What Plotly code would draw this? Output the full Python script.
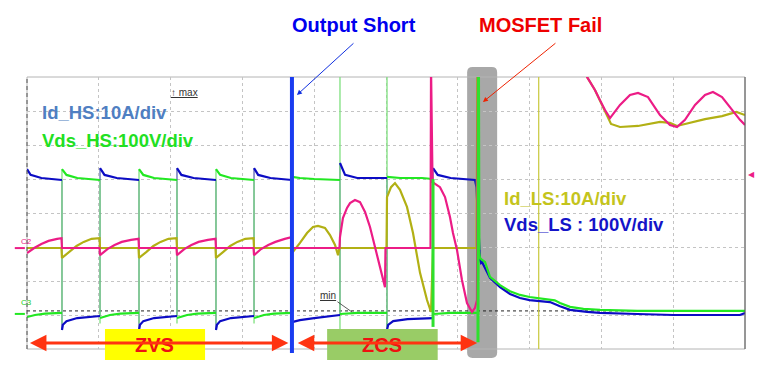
import plotly.graph_objects as go

# Screen units: time in horizontal divisions (10), amplitude in vertical divisions (8)
X_RANGE = [0, 10]
Y_RANGE = [0, 8]

# event times (div)
short_t = 3.69
fail_t = 6.28
ref_level = 1.12   # dashed ground/min reference

# Vds_HS (green) - settled segments, None separates switching edges
vds_hs_t = [0.000, 0.111, 0.251, 0.487, None,
            0.487, 0.550, 0.700, 1.017, None,
            1.017, 1.156, 1.300, 1.560, None,
            1.560, 1.620, 1.770, 2.089, None,
            2.089, 2.230, 2.370, 2.632, None,
            2.632, 2.690, 2.840, 3.162, None,
            3.162, 3.300, 3.440, 3.691, None,
            3.691, 3.800, 4.000, 4.359, None,
            4.359, 4.600, 5.014, None,
            5.014, 5.200, 5.500, 5.655, None,
            5.655, 5.900, 6.281, None,
            6.295, 6.309, 6.337, 6.379, 6.448, 6.588, 6.727, 6.866,
            7.000, 7.284, 7.350, 7.423, 7.563, 7.750, 7.981, 8.500, 10.000]
vds_hs_v = [0.94, 1.00, 1.04, 1.06, None,
            5.29, 5.12, 5.03, 4.97, None,
            0.91, 1.00, 1.04, 1.06, None,
            5.29, 5.12, 5.03, 4.97, None,
            0.91, 1.00, 1.04, 1.06, None,
            5.29, 5.12, 5.03, 4.97, None,
            0.91, 1.00, 1.04, 1.06, None,
            5.06, 5.03, 5.00, 4.97, None,
            1.03, 1.06, 1.06, None,
            5.06, 5.03, 5.03, 5.00, None,
            1.03, 1.06, 1.06, None,
            2.91, 2.68, 2.62, 2.56, 2.12, 1.88, 1.70, 1.59,
            1.53, 1.44, 1.43, 1.35, 1.24, 1.18, 1.15, 1.12, 1.12]

# Vds_HS switching edges (thin, fast transitions)
hs_edge_t = [0.487, 0.487, None, 1.017, 1.017, None, 1.560, 1.560, None,
             2.089, 2.089, None, 2.632, 2.632, None, 3.162, 3.162, None,
             4.359, 4.359, None, 5.014, 5.014]
hs_edge_v = [0.75, 5.29, None, 4.97, 0.75, None, 0.75, 5.29, None,
             4.97, 0.75, None, 0.75, 5.29, None, 4.97, 0.75, None,
             -0.30, 8.30, None, -0.30, 8.30]
# Vds_HS heavy edges (last turn-off and failure)
hs_fail_t = [5.655, 5.655, None, 6.281, 6.281, 6.288, 6.295]
hs_fail_v = [5.00, 0.65, None, 1.06, 0.20, 8.30, 2.91]

# Vds_LS (blue)
vds_ls_t = [0.000, 0.050, 0.200, 0.487, None,
            0.487, 0.500, 0.550, 0.700, 1.017, None,
            1.017, 1.080, 1.250, 1.560, None,
            1.560, 1.574, 1.620, 1.770, 2.089, None,
            2.089, 2.150, 2.320, 2.632, None,
            2.632, 2.646, 2.690, 2.840, 3.162, None,
            3.162, 3.220, 3.390, 3.691, None,
            3.691, 3.800, 4.000, 4.359, None,
            4.359, 4.430, 4.600, 5.014, None,
            5.014, 5.030, 5.100, 5.300, 5.655, None,
            5.655, 5.720, 5.900, 6.240,
            6.260, 6.309, 6.323, 6.337, 6.448, 6.588, 6.727, 6.866, 7.000,
            7.284, 7.423, 7.563, 7.800, 7.981, 8.500, 9.000, 9.930, 10.000]
vds_ls_v = [5.29, 5.12, 5.03, 4.97, None,
            0.56, 0.71, 0.82, 0.91, 0.97, None,
            5.32, 5.12, 5.03, 4.97, None,
            0.56, 0.71, 0.82, 0.91, 0.97, None,
            5.32, 5.12, 5.03, 4.97, None,
            0.56, 0.71, 0.82, 0.91, 0.97, None,
            5.32, 5.12, 5.03, 4.97, None,
            0.79, 0.85, 0.91, 1.00, None,
            5.47, 5.12, 5.03, 5.03, None,
            0.56, 0.71, 0.82, 0.88, 0.91, None,
            5.32, 5.12, 5.03, 4.97,
            4.76, 2.62, 2.53, 2.56, 2.09, 1.82, 1.62, 1.50, 1.44,
            1.38, 1.26, 1.15, 1.09, 1.06, 1.03, 1.00, 1.00, 1.06]

# Vds_LS switching edges
ls_edge_t = [0.487, 0.487, None, 1.017, 1.017, None, 1.560, 1.560, None,
             2.089, 2.089, None, 2.632, 2.632, None, 3.162, 3.162, None,
             4.359, 4.359, None, 5.014, 5.014, None, 5.655, 5.655]
ls_edge_v = [4.97, 0.56, None, 0.97, 5.32, None, 4.97, 0.56, None,
             0.97, 5.32, None, 4.97, 0.56, None, 0.97, 5.32, None,
             1.00, 5.47, None, 5.03, 0.56, None, 0.91, 5.32]

# Id_HS (magenta)
id_hs_t = [0.000, 0.100, 0.200, 0.300, 0.420, 0.480,
           0.487, 1.010,
           1.017, 1.120, 1.220, 1.320, 1.450, 1.553,
           1.560, 2.082,
           2.089, 2.190, 2.290, 2.390, 2.520, 2.625,
           2.632, 3.155,
           3.162, 3.260, 3.360, 3.460, 3.590, 3.684,
           3.691, 4.352,
           4.359, 4.400, 4.457, 4.499, 4.568, 4.638, 4.708, 4.777, 4.847, 4.916, 4.986,
           4.993, 5.620,
           5.627, 5.648, 5.752, 5.822, 5.891, 5.933, 5.989, 6.058, 6.128, 6.198, 6.240, 6.267,
           6.281, 7.700, 7.800, 7.910, 7.980, 8.050, 8.120, 8.259, 8.398, 8.510, 8.649,
           8.816, 8.955, 9.053, 9.164, 9.304, 9.443, 9.554, 9.680, 9.819, 9.930, 10.000]
id_hs_v = [2.82, 2.97, 3.09, 3.18, 3.24, 3.26,
           2.97, 2.97,
           2.76, 2.94, 3.06, 3.15, 3.21, 3.24,
           2.97, 2.97,
           2.76, 2.94, 3.06, 3.15, 3.21, 3.24,
           2.97, 2.97,
           2.76, 2.94, 3.06, 3.15, 3.24, 3.29,
           2.97, 2.97,
           3.29, 3.85, 4.15, 4.29, 4.38, 4.32, 4.03, 3.59, 3.00, 2.41, 1.82,
           2.97, 2.97,
           8.30, 4.91, 4.76, 4.47, 3.88, 3.41, 2.91, 2.03, 1.35, 1.09, 1.21, 1.44,
           8.50, 8.50, 8.00, 7.62, 7.32, 7.03, 6.79, 7.18, 7.47, 7.53, 7.41,
           6.88, 6.59, 6.53, 6.74, 7.18, 7.47, 7.56, 7.41, 7.03, 6.74, 6.59]

# Id_LS (olive)
id_ls_t = [0.000, 0.480,
           0.487, 0.590, 0.690, 0.790, 0.900, 1.010,
           1.017, 1.553,
           1.560, 1.660, 1.760, 1.860, 1.970, 2.082,
           2.089, 2.625,
           2.632, 2.730, 2.830, 2.930, 3.040, 3.155,
           3.162, 3.684,
           3.691, 3.802, 3.900, 3.983, 4.053, 4.150, 4.220, 4.290, 4.332, 4.352, 5.007,
           5.014, 5.070, 5.125, 5.195, 5.292, 5.376, 5.474, 5.571, 5.627, 5.655, 6.260,
           6.274, 7.700, 7.800, 7.910, 7.980, 8.050, 8.134, 8.259,
           8.510, 8.816, 8.955, 9.053, 9.164, 9.443, 9.680, 9.880, 10.000]
id_ls_v = [2.97, 2.97,
           2.68, 2.85, 3.03, 3.15, 3.24, 3.26,
           2.97, 2.97,
           2.68, 2.85, 3.03, 3.15, 3.24, 3.26,
           2.97, 2.97,
           2.68, 2.85, 3.03, 3.15, 3.24, 3.26,
           2.97, 2.97,
           2.82, 3.12, 3.41, 3.59, 3.62, 3.56, 3.35, 3.06, 2.76, 2.97, 2.97,
           4.47, 4.76, 4.88, 4.68, 4.18, 3.41, 2.24, 1.44, 1.09, 2.97, 2.97,
           8.50, 8.50, 8.00, 7.62, 7.32, 7.03, 6.62, 6.53,
           6.56, 6.68, 6.65, 6.56, 6.62, 6.76, 6.85, 6.97, 6.88]

# thin full-height Id_LS glitch
olive_glitch_t = [7.127, 7.127]
olive_glitch_v = [-0.30, 8.30]

C_BLUE = "#0c0cc4"
C_GREEN = "#22e822"
C_MAG = "#ec1c86"
C_OLIVE = "#b2b014"
FONT = "Liberation Sans, Arial, sans-serif"

fig = go.Figure()
def line_trace(x, y, color, width, name=None):
    fig.add_trace(go.Scatter(x=x, y=y, mode="lines", name=name, connectgaps=False,
                             line=dict(color=color, width=width), hoverinfo="skip"))

fig.add_trace(go.Scatter(x=[0, 10], y=[ref_level, ref_level], mode="lines",
                         line=dict(color="#222222", width=1, dash="3px,3px"), hoverinfo="skip"))
line_trace(ls_edge_t, ls_edge_v, "#2a3a9a", 1.0)
line_trace(hs_edge_t, hs_edge_v, "#7ee07e", 1.3)
line_trace(olive_glitch_t, olive_glitch_v, "#c8c83a", 1.2)
line_trace(vds_ls_t, vds_ls_v, C_BLUE, 2.2, "Vds_LS")
line_trace(vds_hs_t, vds_hs_v, C_GREEN, 2.2, "Vds_HS")
line_trace(id_ls_t, id_ls_v, C_OLIVE, 2.2, "Id_LS")
line_trace(id_hs_t, id_hs_v, C_MAG, 2.2, "Id_HS")
line_trace(hs_fail_t, hs_fail_v, "#2ee02e", 3.0)

def xp(x):
    return (x - X_RANGE[0]) / (X_RANGE[1] - X_RANGE[0])

shapes = []
# gray highlight around failure (under the traces)
x0, x1 = xp(fail_t) - 0.0150, xp(fail_t) + 0.0268
yb, yt = -0.033, 1.037
dx, dy = 0.0075, 0.02
path = (f"M {x0+dx},{yb} L {x1-dx},{yb} Q {x1},{yb} {x1},{yb+dy} L {x1},{yt-dy} "
        f"Q {x1},{yt} {x1-dx},{yt} L {x0+dx},{yt} Q {x0},{yt} {x0},{yt-dy} "
        f"L {x0},{yb+dy} Q {x0},{yb} {x0+dx},{yb} Z")
shapes.append(dict(type="path", xref="paper", yref="paper", path=path,
                   fillcolor="#a8a8a8", line=dict(width=0), layer="below"))
# frame
shapes.append(dict(type="rect", xref="paper", yref="paper", x0=0, x1=1, y0=0, y1=1,
                   line=dict(color="#b4b4b4", width=1), layer="below"))
shapes.append(dict(type="line", xref="paper", yref="paper", x0=1, x1=1, y0=0, y1=1,
                   line=dict(color="#555555", width=1)))
shapes.append(dict(type="line", xref="paper", yref="paper", x0=0, x1=0, y0=0, y1=1,
                   line=dict(color="#555555", width=1, dash="4px,3px")))
# output short thick line
shapes.append(dict(type="line", xref="paper", yref="paper", x0=xp(short_t), x1=xp(short_t),
                   y0=-0.015, y1=1.0, line=dict(color="#1a3cf0", width=4), layer="above"))
# ZVS / ZCS boxes
shapes.append(dict(type="rect", xref="paper", yref="paper", x0=0.1086, x1=0.248, y0=-0.040, y1=0.0735,
                   fillcolor="#ffff00", line=dict(width=0), layer="above"))
shapes.append(dict(type="rect", xref="paper", yref="paper", x0=0.418, x1=0.572, y0=-0.040, y1=0.0735,
                   fillcolor="#99cc66", line=dict(width=0), layer="above"))
# channel markers at left
shapes.append(dict(type="line", xref="paper", yref="paper", x0=-0.017, x1=-0.003, y0=0.371, y1=0.371,
                   line=dict(color=C_MAG, width=2)))
shapes.append(dict(type="line", xref="paper", yref="paper", x0=-0.017, x1=-0.003, y0=0.129, y1=0.129,
                   line=dict(color=C_GREEN, width=2)))

ann = []
def label(text, x, y, color, size=18, xanchor="left"):
    ann.append(dict(text=f"<b>{text}</b>", x=x, y=y, xref="paper", yref="paper",
                    showarrow=False, xanchor=xanchor, yanchor="middle",
                    font=dict(family=FONT, size=size, color=color)))

label("Id_HS:10A/div", 0.018, 0.871, "#4f7fc2", size=18.5)
label("Vds_HS:100V/div", 0.018, 0.768, "#22e022", size=18.5)
label("Id_LS:10A/div", 0.6616, 0.555, "#c4c41c", size=18.5)
label("Vds_LS : 100V/div", 0.6616, 0.456, "#1414c8", size=18.5)
label("Output Short", 0.4554, 1.191, "#0000ee", size=20, xanchor="center")
label("MOSFET Fail", 0.7145, 1.191, "#ee0000", size=20, xanchor="center")
label("ZVS", 0.178, 0.0147, "#ee1111", size=20, xanchor="center")
label("ZCS", 0.4944, 0.0147, "#ee1111", size=20, xanchor="center")

# pointer arrows
ann.append(dict(text="", x=0.376, y=0.934, xref="paper", yref="paper", ax=58, ay=-53,
                showarrow=True, arrowhead=2, arrowsize=1, arrowwidth=1, arrowcolor="#1030e0"))
ann.append(dict(text="", x=0.635, y=0.908, xref="paper", yref="paper", ax=74, ay=-60,
                showarrow=True, arrowhead=2, arrowsize=1, arrowwidth=1, arrowcolor="#ee2200"))
# region arrows
ann.append(dict(text="", x=short_t - 0.05, y=0.022, xref="x", yref="paper",
                ax=0.02, ay=0, axref="x", ayref="pixel",
                showarrow=True, arrowhead=2, arrowside="end+start", arrowsize=1.1,
                arrowwidth=3, arrowcolor="#ff3311"))
ann.append(dict(text="", x=fail_t - 0.01, y=0.022, xref="x", yref="paper",
                ax=short_t + 0.06, ay=0, axref="x", ayref="pixel",
                showarrow=True, arrowhead=2, arrowside="end+start", arrowsize=1.1,
                arrowwidth=3, arrowcolor="#ff3311"))
# scope cursors text
ann.append(dict(text="<u>↑ max</u>", x=0.198, y=0.970, xref="paper", yref="paper", showarrow=False,
                font=dict(family=FONT, size=10, color="#333333")))
ann.append(dict(text="<u>min</u>", x=0.4526, y=0.136, xref="paper", yref="paper",
                ax=-24, ay=-17, showarrow=True, arrowhead=0, arrowwidth=0.8, arrowcolor="#333333",
                font=dict(family=FONT, size=10, color="#333333")))
ann.append(dict(text="C2", x=-0.011, y=0.397, xref="paper", yref="paper", showarrow=False,
                font=dict(family=FONT, size=8, color=C_MAG)))
ann.append(dict(text="C3", x=-0.011, y=0.147, xref="paper", yref="paper", showarrow=False,
                font=dict(family=FONT, size=8, color="#22cc22")))
ann.append(dict(text="◀", x=1.002, y=0.643, xref="paper", yref="paper", showarrow=False,
                xanchor="left", font=dict(family="DejaVu Sans", size=8, color=C_MAG)))

fig.update_layout(
    width=768, height=388,
    margin=dict(l=27, r=23, t=77, b=39),
    paper_bgcolor="white", plot_bgcolor="rgba(0,0,0,0)",
    showlegend=False,
    shapes=shapes, annotations=ann,
    xaxis=dict(range=X_RANGE, dtick=1, showgrid=True, gridcolor="#c4c4c4", griddash="dot",
               gridwidth=1, zeroline=False, showticklabels=False, showline=False, fixedrange=True),
    yaxis=dict(range=Y_RANGE, dtick=1, showgrid=True, gridcolor="#c4c4c4", griddash="dot",
               gridwidth=1, zeroline=False, showticklabels=False, showline=False, fixedrange=True),
)
fig.write_html("out.html", config={"displayModeBar": False},
               post_script="document.body.style.margin='0';")
